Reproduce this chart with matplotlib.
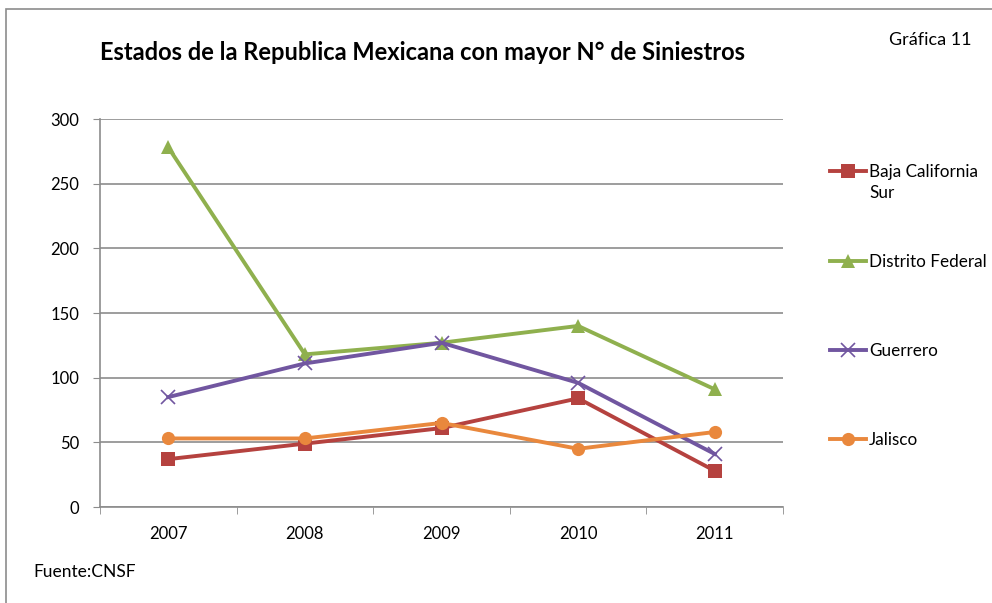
import matplotlib
matplotlib.use('Agg')
from matplotlib import pyplot as plt
from matplotlib.lines import Line2D
from matplotlib.patches import Rectangle

plt.rcParams['font.family'] = ['Lato', 'DejaVu Sans']

# Data
years = ['2007', '2008', '2009', '2010', '2011']
baja_sur = [37, 49, 61, 84, 28]
distrito_federal = [278, 118, 127, 140, 91]
guerrero = [85, 111, 127, 96, 41]
jalisco = [53, 53, 65, 45, 58]

series = [
    ('Baja California\nSur', baja_sur, '#B5423F', 's'),
    ('Distrito Federal', distrito_federal, '#8FB04E', '^'),
    ('Guerrero', guerrero, '#7156A0', 'x'),
    ('Jalisco', jalisco, '#E9883D', 'o'),
]


def main():
    fig = plt.figure(figsize=(9.92, 6.03), dpi=100)

    # outer chart border (left and top visible)
    fig.patches.append(Rectangle((6 / 992, -0.1), 1.2, (603 - 9) / 603 + 0.1,
                                 transform=fig.transFigure, fill=False,
                                 edgecolor='#8c8c8c', lw=1.2))

    ax = fig.add_axes([100 / 992, 96 / 603, 683 / 992, 388 / 603])
    x = list(range(len(years)))
    lines = []
    for name, vals, color, marker in series:
        mew = 1.2 if marker == 'x' else 0
        ln, = ax.plot(x, vals, color=color, lw=2.8, marker=marker,
                      markersize=9.5, markeredgewidth=mew,
                      markeredgecolor=color, label=name)
        lines.append(ln)

    ax.set_xlim(-0.5, 4.5)
    ax.set_ylim(0, 300)
    ax.set_yticks(range(0, 301, 50))
    ax.yaxis.grid(True, color='#8c8c8c', lw=1.2)
    ax.set_axisbelow(True)
    ax.set_xticks(x)
    ax.set_xticklabels(years)
    ax.set_xticks([i + 0.5 for i in range(-1, 5)], minor=True)
    ax.tick_params(axis='x', which='major', length=0, pad=14, labelsize=12)
    ax.tick_params(axis='x', which='minor', length=5, color='#8c8c8c')
    ax.tick_params(axis='y', length=5, color='#8c8c8c', pad=10, labelsize=12)
    for s in ['top', 'right']:
        ax.spines[s].set_visible(False)
    for s in ['left', 'bottom']:
        ax.spines[s].set_color('#8c8c8c')
        ax.spines[s].set_linewidth(1.2)

    fig.text(423 / 992, 1 - 53 / 603, 'Estados de la Republica Mexicana con mayor N° de Siniestros',
             ha='center', va='center', fontsize=17, fontweight='bold')
    fig.text(930 / 992, 1 - 40 / 603, 'Gráfica 11', ha='center', va='center', fontsize=13)
    fig.text(33 / 992, 1 - 572 / 603, 'Fuente:CNSF', ha='left', va='center', fontsize=12.5)

    # legend drawn by hand to keep Excel spacing
    leg_y = [171, 261, 350, 439]
    for ln, (name, vals, color, marker), yy in zip(lines, series, leg_y):
        yf = 1 - yy / 603
        fig.lines.append(Line2D([830 / 992, 866 / 992], [yf, yf], transform=fig.transFigure,
                                color=color, lw=2.8))
        fig.lines.append(Line2D([848 / 992], [yf], transform=fig.transFigure,
                                color=color, marker=marker, markersize=9.5,
                                markeredgewidth=ln.get_markeredgewidth(), markeredgecolor=color))
        fig.text(869 / 992, yf + 7 / 603, name, ha='left', va='top', fontsize=12.3,
                 linespacing=1.35)

    fig.savefig('out.png', dpi=100)


if __name__ == '__main__':
    main()
